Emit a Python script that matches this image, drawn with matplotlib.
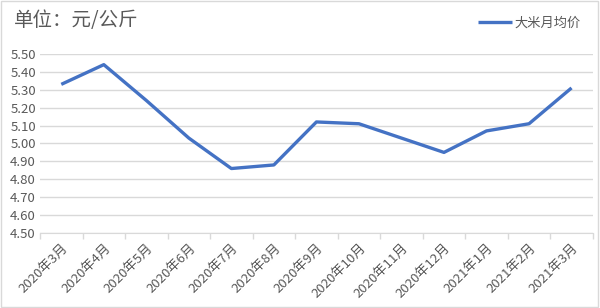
import matplotlib
matplotlib.use("Agg")
import matplotlib.pyplot as plt
import numpy as np

plt.rcParams['font.family'] = ['Noto Sans CJK SC', 'DejaVu Sans']

months = ['2020年3月', '2020年4月', '2020年5月', '2020年6月', '2020年7月', '2020年8月',
          '2020年9月', '2020年10月', '2020年11月', '2020年12月', '2021年1月',
          '2021年2月', '2021年3月']
price = [5.33, 5.44, 5.24, 5.03, 4.86, 4.88, 5.12, 5.11, 5.03, 4.95, 5.07, 5.11, 5.31]
yticks = [4.5, 4.6, 4.7, 4.8, 4.9, 5.0, 5.1, 5.2, 5.3, 5.4, 5.5]

gray = '#595959'
grid = '#d9d9d9'

fig = plt.figure(figsize=(6, 3.08), dpi=100)
ax = fig.add_axes([0.0667, 0.2435, 0.9213, 0.5815])

x = np.arange(len(months))
ax.plot(x, price, color='#4472C4', lw=2.4, solid_joinstyle='round',
        solid_capstyle='butt', label='大米月均价')

ax.set_xlim(-0.5, len(months) - 0.5)
ax.set_ylim(4.5, 5.5)
ax.set_yticks(yticks)
ax.set_yticklabels([f'{v:.2f}' for v in yticks], color=gray, fontsize=9.5)
ax.tick_params(axis='y', length=0, pad=3)
ax.yaxis.grid(True, color=grid, lw=1)
ax.set_axisbelow(True)

# category labels at centers, tick marks at boundaries
ax.set_xticks(x)
ax.set_xticklabels(months, rotation=45, ha='right', rotation_mode='anchor',
                   color=gray, fontsize=9.5)
ax.tick_params(axis='x', which='major', length=0, pad=6)
ax.set_xticks(np.arange(-0.5, len(months)), minor=True)
ax.tick_params(axis='x', which='minor', length=4, color=grid, width=1)

for s in ['top', 'right', 'left']:
    ax.spines[s].set_visible(False)
ax.spines['bottom'].set_color(grid)

fig.text(0.023, 0.932, '单位：元/公斤', fontsize=14, color=gray, va='center')

leg = ax.legend(loc='upper right', bbox_to_anchor=(0.999, 1.275), frameon=False,
                fontsize=9.5, handlelength=2.6, handletextpad=0.15)
for t in leg.get_texts():
    t.set_color(gray)

# outer border
fig.patches.append(plt.Rectangle((0.002, 0.003), 0.995, 0.994, transform=fig.transFigure,
                                 fill=False, edgecolor='#d9d9d9', lw=1))

fig.savefig('out.png', dpi=100)
